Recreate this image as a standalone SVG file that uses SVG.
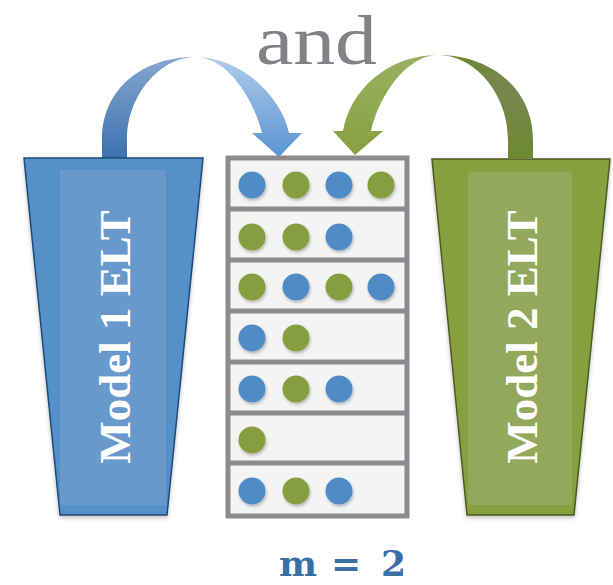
<svg xmlns="http://www.w3.org/2000/svg" width="613" height="585" viewBox="0 0 613 585">
  <defs>
    <linearGradient id="blueLeft" x1="0" y1="0" x2="0" y2="1">
      <stop offset="0" stop-color="#86a6d0"/>
      <stop offset="1" stop-color="#3c72ad"/>
    </linearGradient>
    <linearGradient id="blueRight" x1="0" y1="0" x2="0" y2="1">
      <stop offset="0" stop-color="#b0cbea"/>
      <stop offset="1" stop-color="#5a94d3"/>
    </linearGradient>
    <linearGradient id="greenLeft" x1="0" y1="0" x2="0" y2="1">
      <stop offset="0" stop-color="#9bb062"/>
      <stop offset="1" stop-color="#86a03f"/>
    </linearGradient>
    <linearGradient id="greenRight" x1="0" y1="0" x2="0" y2="1">
      <stop offset="0" stop-color="#6b8a35"/>
      <stop offset="0.35" stop-color="#788650"/>
      <stop offset="1" stop-color="#6c8a30"/>
    </linearGradient>
    <filter id="shadow" x="-20%" y="-20%" width="140%" height="140%">
      <feDropShadow dx="0" dy="2" stdDeviation="2" flood-color="#000" flood-opacity="0.25"/>
    </filter>
    <filter id="dotShadow" x="-40%" y="-40%" width="180%" height="180%">
      <feDropShadow dx="1" dy="2" stdDeviation="1.5" flood-color="#000" flood-opacity="0.25"/>
    </filter>
  </defs>
  <style>
    .elt-text { font-family: "Liberation Serif", "Times New Roman", serif; font-weight: bold; font-size: 45px; fill: #ffffff; }
    .blue { fill: #4f8bc5; }
    .green { fill: #879e3f; }
    .row { fill: #f4f4f4; }
    .frame { fill: none; stroke: #8b8b8f; stroke-width: 5; }
    .sep { stroke: #8b8b8f; stroke-width: 5; }
  </style>

  <rect width="613" height="585" fill="#ffffff"/>

  <!-- caption above -->
  <g id="label-and">
    <text x="256" y="64" font-family="'Liberation Serif', 'Times New Roman', serif" font-size="70" fill="#808285" textLength="121" lengthAdjust="spacingAndGlyphs">and</text>
  </g>

  <!-- curved arrows feeding the buffer; each band is drawn as two halves meeting at the apex -->
  <g id="connectors">
    <g id="arrow-model1">
      <path fill="url(#blueLeft)" d="M102,158 L102,140 C102,88 143,57 195,57 C162,57 127,93 127,140 L127,158 Z"/>
      <path fill="url(#blueRight)" d="M195,57 C240,57 281,95 289,133 L302,133 L279,157 L252,133 L262,133 C252,95 226,57 195,57 Z"/>
    </g>
    <g id="arrow-model2">
      <path fill="url(#greenLeft)" d="M438,55 C388,55 350,90 343,131 L333,131 L355,155 L383,131 L371,131 C379,95 407,55 438,55 Z"/>
      <path fill="url(#greenRight)" d="M438,55 C490,55 533,88 533,140 L533,158 L508,158 L508,140 C508,93 474,55 438,55 Z"/>
    </g>
  </g>

  <!-- Model 1 -->
  <g id="model1">
    <polygon points="24,158 203,158 167,515 60,515" fill="#5590c8" stroke="#1f4a75" stroke-width="1.5" filter="url(#shadow)"/>
    <rect x="60" y="170" width="106" height="335" fill="#6b9acb" opacity="0.9"/>
    <text class="elt-text" transform="translate(130,337) rotate(-90)" text-anchor="middle">Model 1 ELT</text>
  </g>

  <!-- Model 2 -->
  <g id="model2">
    <polygon points="432,159 610,159 574,515 467,515" fill="#86a03f" stroke="#4e5a22" stroke-width="1.5" filter="url(#shadow)"/>
    <rect x="468" y="172" width="104" height="333" fill="#95a95e" opacity="0.9"/>
    <text class="elt-text" transform="translate(537,337) rotate(-90)" text-anchor="middle">Model 2 ELT</text>
  </g>

  <!-- buffer with seven rows of samples -->
  <g id="buffer">
    <rect class="row" x="228" y="158" width="179" height="358"/>
    <line class="sep" x1="228" y1="209" x2="407" y2="209"/>
    <line class="sep" x1="228" y1="260" x2="407" y2="260"/>
    <line class="sep" x1="228" y1="311" x2="407" y2="311"/>
    <line class="sep" x1="228" y1="362" x2="407" y2="362"/>
    <line class="sep" x1="228" y1="413" x2="407" y2="413"/>
    <line class="sep" x1="228" y1="463" x2="407" y2="463"/>
    <rect class="frame" x="228" y="158" width="179" height="358"/>
    <g filter="url(#dotShadow)">
      <circle class="blue" cx="252" cy="185" r="13.5"/>
      <circle class="green" cx="296" cy="185" r="13.5"/>
      <circle class="blue" cx="339" cy="185" r="13.5"/>
      <circle class="green" cx="381" cy="185" r="13.5"/>

      <circle class="green" cx="252" cy="237" r="13.5"/>
      <circle class="green" cx="296" cy="237" r="13.5"/>
      <circle class="blue" cx="339" cy="237" r="13.5"/>

      <circle class="green" cx="252" cy="287" r="13.5"/>
      <circle class="blue" cx="296" cy="287" r="13.5"/>
      <circle class="green" cx="339" cy="287" r="13.5"/>
      <circle class="blue" cx="381" cy="287" r="13.5"/>

      <circle class="blue" cx="252" cy="338" r="13.5"/>
      <circle class="green" cx="296" cy="338" r="13.5"/>

      <circle class="blue" cx="252" cy="389" r="13.5"/>
      <circle class="green" cx="296" cy="389" r="13.5"/>
      <circle class="blue" cx="339" cy="389" r="13.5"/>

      <circle class="green" cx="252" cy="440" r="13.5"/>

      <circle class="blue" cx="252" cy="491" r="13.5"/>
      <circle class="green" cx="296" cy="491" r="13.5"/>
      <circle class="blue" cx="339" cy="491" r="13.5"/>
    </g>
  </g>

  <!-- caption below -->
  <g id="label-m">
    <text y="576" font-family="'DejaVu Serif', 'Liberation Serif', serif" font-weight="bold" font-size="36" fill="#3b6fa6"><tspan x="279">m</tspan><tspan x="331">=</tspan><tspan x="381">2</tspan></text>
  </g>
</svg>
